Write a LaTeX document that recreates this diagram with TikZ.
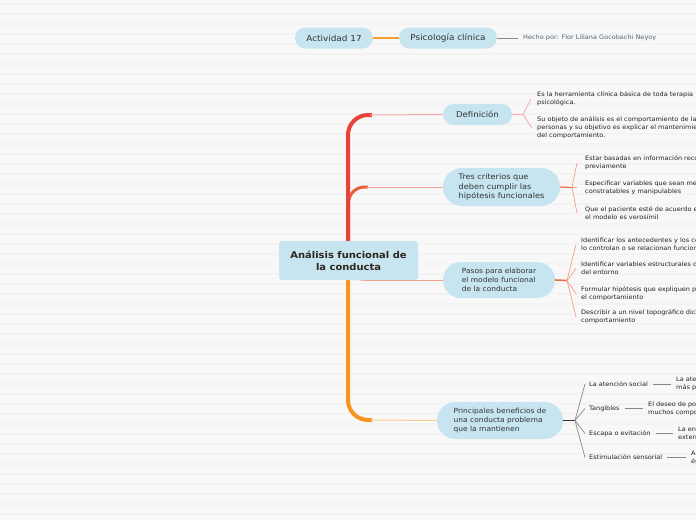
\documentclass[tikz,border=0pt]{standalone}
\usepackage{fontspec}
\setmainfont[FakeStretch=1.07]{DejaVu Sans}
\definecolor{bg}{HTML}{F8F8F8}
\definecolor{stripe}{HTML}{F3F3F3}
\definecolor{nodeblue}{HTML}{C6E5F0}
\definecolor{txt}{HTML}{333333}
\definecolor{maintxt}{HTML}{2E2520}
\definecolor{leaftxt}{HTML}{222222}
\definecolor{hecho}{HTML}{4E6070}
\definecolor{trunkred}{HTML}{E8433A}
\definecolor{trunkmid}{HTML}{EA5E3C}
\definecolor{trunkorange}{HTML}{F7941D}
\definecolor{lightorange}{HTML}{FBC98A}
\definecolor{pinkline}{HTML}{F6ABA2}
\definecolor{salmon}{HTML}{F4A088}
\definecolor{salmondark}{HTML}{F06A48}
\definecolor{topline}{HTML}{F7A030}
\definecolor{grayline}{HTML}{888888}
\definecolor{darkline}{HTML}{333333}
\tikzset{
  pill/.style={fill=nodeblue, draw=none, inner sep=0pt, text=txt},
  leaf/.style={anchor=west, align=left, inner sep=0pt, font=\fontsize{6.1}{8}\selectfont, text=leaftxt},
}
\begin{document}
\begin{tikzpicture}[x=1pt,y=-1pt]
\clip (0,0) rectangle (696,520);
\fill[bg] (0,0) rectangle (696,520);
\foreach \yy in {4,14,...,514} \draw[stripe, line width=1.2] (0,\yy) -- (696,\yy);

% top row
\node[pill, minimum width=78, minimum height=21, rounded corners=10.5, font=\fontsize{8.3}{10}\selectfont] (act) at (334,38) {Actividad 17};
\node[pill, minimum width=98, minimum height=21, rounded corners=10.5, font=\fontsize{8.3}{10}\selectfont] (psi) at (448,38) {Psicología clínica};
\draw[topline, line width=1.5] (act) -- (psi);
\node[leaf, text=hecho] (hecho) at (523,38) {Hecho por: Flor Liliana Gocobachi Neyoy};
\draw[grayline, line width=0.8] (psi.east) -- ([xshift=-5]hecho.west);

% trunk
\coordinate (tdef) at (372,115);
\coordinate (ttres) at (368,187);
\coordinate (tpas) at (370,280);
\coordinate (tpri) at (372,420);
\draw[trunkorange, line width=4, rounded corners=20] (348,255) |- (tpri);
\draw[salmon, line width=1.5, rounded corners=14] (349,255) |- (tpas);
\draw[trunkmid, line width=3, rounded corners=16] (348.5,255) |- (ttres);
\draw[trunkred, line width=4, rounded corners=20] (348,255) |- (tdef);

% central node
\node[fill=nodeblue, rounded corners=3, minimum width=139, minimum height=39, inner sep=0pt, align=center, font=\bfseries\fontsize{9.3}{12}\selectfont, text=maintxt] (main) at (348.5,260.5) {Análisis funcional de\\la conducta};

% second level nodes
\node[pill, minimum width=69, minimum height=21, rounded corners=10.5, font=\fontsize{8}{10}\selectfont] (def) at (477.5,114.5) {Definición};
\node[pill, minimum width=117, minimum height=38, rounded corners=19, align=left, font=\fontsize{7.6}{9.5}\selectfont] (tres) at (501.5,187) {Tres criterios que\\deben cumplir las\\hipótesis funcionales};
\node[pill, minimum width=112, minimum height=36, rounded corners=18, align=left, font=\fontsize{7}{9}\selectfont] (pas) at (499,280) {Pasos para elaborar\\el modelo funcional\\de la conducta};
\node[pill, minimum width=126, minimum height=37, rounded corners=18.5, align=left, font=\fontsize{7}{9}\selectfont] (pri) at (500,420.5) {Principales beneficios de\\una conducta problema\\que la mantienen};

\draw[pinkline, line width=1] ([xshift=-2]tdef) -- (def.west);
\draw[salmon, line width=1] ([xshift=-2]ttres) -- (tres.west);
\draw[salmon, line width=1] ([xshift=-2]tpas) -- (pas.west);
\draw[lightorange, line width=1] ([xshift=-2]tpri) -- (pri.west);

% Definicion leaves
\node[leaf] (d1) at (537,99) {Es la herramienta clínica básica de toda terapia\\psicológica.};
\node[leaf] (d2) at (537,128) {Su objeto de análisis es el comportamiento de las\\personas y su objetivo es explicar el mantenimiento\\del comportamiento.};
\coordinate (fdef) at (523,114.5);
\draw[pinkline, line width=1.2] (def.east) -- (fdef);
\draw[pinkline, line width=0.7] (fdef) -- ([xshift=-6]d1.west);
\draw[pinkline, line width=0.7] (fdef) -- ([xshift=-5]d2.west);

% Tres criterios leaves
\node[leaf] (t1) at (585,163) {Estar basadas en información recogida\\previamente};
\node[leaf] (t2) at (585,187.5) {Especificar variables que sean medibles,\\constratables y manipulables};
\node[leaf] (t3) at (585,213) {Que el paciente esté de acuerdo en que\\el modelo es verosímil};
\coordinate (ftres) at (572,187.5);
\draw[salmondark, line width=1.2] (tres.east) -- (ftres);
\draw[salmon, line width=0.7] (ftres) -- ([xshift=-8]t1.west);
\draw[salmon, line width=0.7] (ftres) -- ([xshift=-8]t2.west);
\draw[salmon, line width=0.7] (ftres) -- ([xshift=-8]t3.west);

% Pasos leaves
\node[leaf] (p1) at (581,244.5) {Identificar los antecedentes y los consecuentes que\\lo controlan o se relacionan funcionalmente};
\node[leaf] (p2) at (581,268.5) {Identificar variables estructurales del organismo y\\del entorno};
\node[leaf] (p3) at (581,293.5) {Formular hipótesis que expliquen por qué se mantiene\\el comportamiento};
\node[leaf] (p4) at (581,317) {Describir a un nivel topográfico dicho\\comportamiento};
\coordinate (fpas) at (567,280.5);
\draw[salmondark, line width=1.6] (pas.east) -- (fpas);
\draw[salmon, line width=0.7] (fpas) -- ([xshift=-5]p1.west);
\draw[salmon, line width=0.7] (fpas) -- ([xshift=-5]p2.west);
\draw[salmon, line width=0.7] (fpas) -- ([xshift=-5]p3.west);
\draw[salmon, line width=0.7] (fpas) -- ([xshift=-5]p4.west);

% Principales leaves
\node[leaf] (b1) at (589,384) {La atención social};
\node[leaf] (b2) at (589,408.5) {Tangibles};
\node[leaf] (b3) at (589,433.5) {Escapa o evitación};
\node[leaf] (b4) at (589,457.5) {Estimulación sensorial};
\coordinate (fpri) at (575,420.5);
\draw[darkline, line width=1.6] (pri.east) -- (fpri);
\draw[grayline, line width=0.7] (fpri) -- ([xshift=-4]b1.west);
\draw[grayline, line width=0.7] (fpri) -- ([xshift=-4]b2.west);
\draw[grayline, line width=0.7] (fpri) -- ([xshift=-4]b3.west);
\draw[grayline, line width=0.7] (fpri) -- ([xshift=-4]b4.west);

\node[leaf] (e1) at (676,384) {La atención de los demás\\más poderosa};
\node[leaf] (e2) at (648,408.5) {El deseo de poseer objetos motiva\\muchos comportamientos};
\node[leaf] (e3) at (678,433.5) {La entrada de estímulos\\externos};
\node[leaf] (e4) at (691,457.5) {A veces la conducta\\ésta};
\draw[grayline, line width=0.7] ([xshift=5]b1.east) -- ([xshift=-5]e1.west);
\draw[grayline, line width=0.7] ([xshift=5]b2.east) -- ([xshift=-5]e2.west);
\draw[grayline, line width=0.7] ([xshift=5]b3.east) -- ([xshift=-5]e3.west);
\draw[grayline, line width=0.7] ([xshift=5]b4.east) -- ([xshift=-5]e4.west);
\end{tikzpicture}
\end{document}
